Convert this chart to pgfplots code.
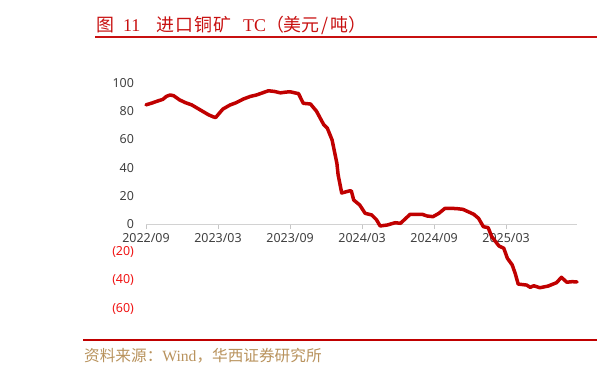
\documentclass[border=0pt]{standalone}
\usepackage{pgfplots}
\pgfplotsset{compat=1.18}
\usepackage{fontspec}
\setmainfont{Liberation Serif}
\newfontfamily\cjk{Noto Sans CJK SC}
\newfontfamily\tickfont{Noto Sans}
\definecolor{linered}{RGB}{192,0,0}
\definecolor{titlered}{RGB}{200,16,16}
\definecolor{srcgold}{RGB}{184,146,92}
\definecolor{ticktext}{RGB}{64,64,64}
\definecolor{negred}{RGB}{240,20,20}
\begin{document}
\begin{tikzpicture}[x=1bp,y=1bp]
\useasboundingbox (0,0) rectangle (597,375);
\node[anchor=base west, inner sep=0, text=titlered, font=\fontsize{18}{22}\selectfont] at (96,344) {{\cjk 图}\hspace{9bp}11\hspace{16bp}{\cjk 进\hspace{1bp}口\hspace{1bp}铜\hspace{1bp}矿}\hspace{12bp}TC{\cjk （美元\hspace{2bp}/\hspace{2bp}吨）}};
\draw[titlered, line width=2bp] (95,338) -- (597,338);
\draw[linered, line width=2.5bp] (83,35) -- (597,35);
\node[anchor=base west, inner sep=0, text=srcgold, font=\fontsize{15.7}{18}\selectfont] at (84,14) {{\cjk 资料来源：}Wind{\cjk ，华西证券研究所}};
\begin{axis}[
  at={(146bp,66.4bp)}, anchor=south west,
  scale only axis, width=431bp, height=225.6bp,
  xmin=0, xmax=35.9, ymin=-60, ymax=100,
  clip=false,
  axis x line=middle, axis y line=left,
  hide obscured x ticks=false,
  x axis line style={-, draw=gray!35, line width=0.8bp},
  y axis line style={draw=none},
  xtick={0,6,12,18,24,30},
  xticklabels={2022/09,2023/03,2023/09,2024/03,2024/09,2025/03},
  xtick style={draw=gray!45, line width=0.8bp},
  xtick align=outside, major tick length=5bp,
  ytick={-60,-40,-20,0,20,40,60,80,100},
  yticklabels={\textcolor{negred}{(60)},\textcolor{negred}{(40)},\textcolor{negred}{(20)},0,20,40,60,80,100},
  ytick style={draw=none},
  tick label style={font=\tickfont\fontsize{12.5}{14}\selectfont, text=ticktext},
  /pgf/number format/assume math mode=true,
  yticklabel style={anchor=east, xshift=-6bp},
  xticklabel style={anchor=north, yshift=-1bp},
]
\addplot[linered, line width=3.5bp, line join=round, line cap=round] coordinates {
(0,84.5) (0.5,85.8) (1.0,87.3) (1.4,88.4) (1.7,90.5) (2.0,91.5) (2.3,91) (2.8,88)
(3.3,86) (3.8,84.5) (4.3,82) (4.8,79.5) (5.2,77.5) (5.6,76) (5.8,75.5) (6.1,78.5)
(6.4,81.5) (7.0,84.4) (7.5,86) (8.1,88.6) (8.7,90.5) (9.2,91.5) (9.7,93) (10.2,94.5)
(10.7,94) (11.2,93) (11.6,93.5) (12.0,93.8) (12.4,93) (12.7,92.5) (13.1,85.6) (13.7,85.1)
(14.2,80) (14.8,70.5) (15.1,68) (15.5,59.6) (15.9,43) (16.0,35) (16.3,22) (16.9,23.4)
(17.1,23.5) (17.3,17) (17.8,13.5) (18.25,7.6) (18.8,6.4) (19.2,3) (19.5,-1.4) (20.1,-0.7)
(20.75,0.9) (21.2,0.5) (22.0,6.9) (23.0,6.9) (23.4,5.7) (23.9,5.2) (24.4,7.6) (24.9,11.1)
(25.5,11.1) (26.0,10.8) (26.4,10.4) (27.3,6.9) (27.7,4) (28.1,-1.9) (28.5,-2.6) (28.8,-9)
(29.4,-15.6) (29.8,-17.2) (30.1,-24.3) (30.5,-29) (30.75,-35) (31.0,-42.6) (31.7,-43.3) (32.0,-44.9)
(32.3,-43.8) (32.8,-45.2) (33.5,-44) (34.2,-41.6) (34.6,-37.8) (35.05,-41.3) (35.5,-40.9) (35.9,-41.1)
};
\end{axis}
\end{tikzpicture}
\end{document}
